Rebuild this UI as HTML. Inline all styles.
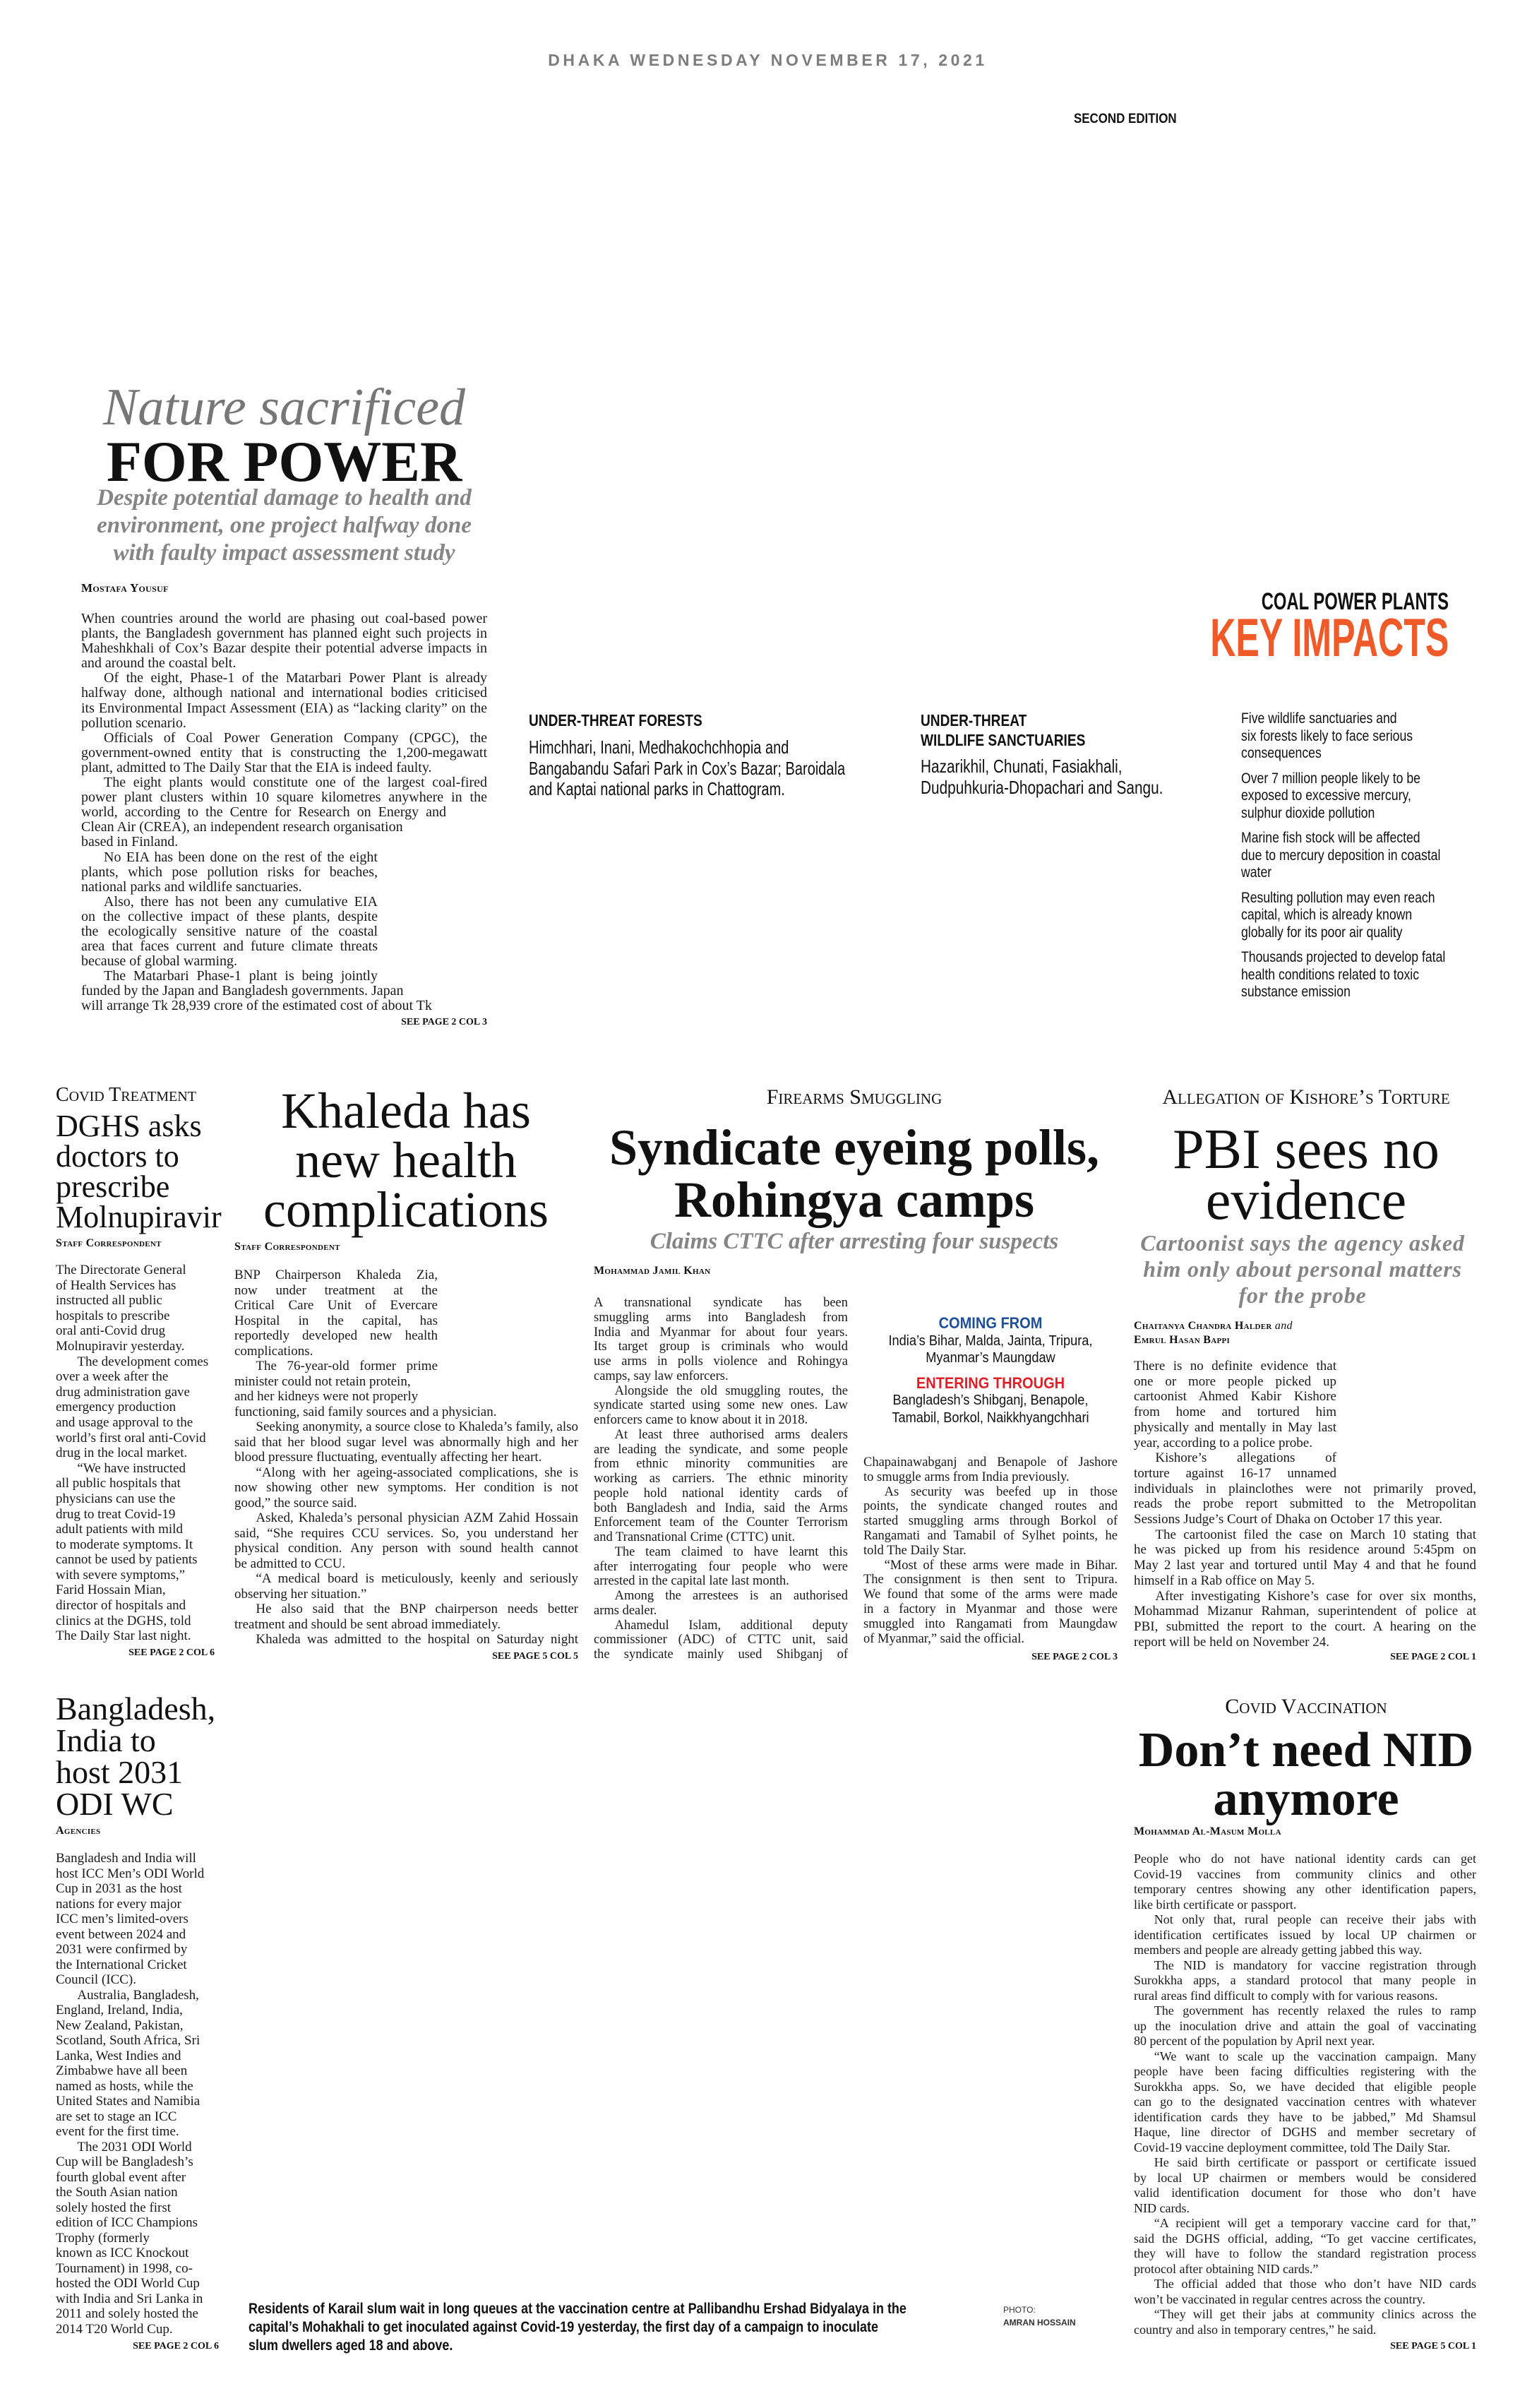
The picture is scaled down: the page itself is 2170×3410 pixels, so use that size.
<!DOCTYPE html>
<html><head><meta charset="utf-8">
<style>
*{margin:0;padding:0;box-sizing:border-box}
html,body{width:2170px;height:3410px;background:#fff;overflow:hidden}
body{position:relative;font-family:"Liberation Serif",serif;color:#111}
.a{position:absolute}
.nar{font-family:"Liberation Sans Narrow","Liberation Sans",sans-serif;font-stretch:condensed}
.b{position:absolute;font-family:"Liberation Serif",serif;color:#1a1a1a}
.b div{white-space:nowrap;text-align:justify;text-align-last:justify}
.b div.e{text-align-last:left}
.b div.i{text-indent:1.6em}
.r div{text-align:left;text-align-last:left}
.sc{font-variant:small-caps;font-weight:bold;font-size:17px;letter-spacing:0.3px}
.kick{font-variant:small-caps;font-size:30px;text-align:center;white-space:nowrap}
.see{position:absolute;font-weight:bold;font-size:14px;text-align:right;white-space:nowrap}
.c{text-align:center;white-space:nowrap}
.gi{color:#858585;font-style:italic;font-weight:bold}
</style></head><body>

<div class="a c" style="left:700px;width:775px;top:72px;font-family:'Liberation Sans',sans-serif;font-weight:bold;font-size:23px;letter-spacing:4.6px;color:#7d7d7d">DHAKA WEDNESDAY NOVEMBER 17, 2021</div>
<div class="a nar" style="left:1500px;width:167px;top:158px;text-align:right;font-weight:bold;font-size:19px;white-space:nowrap"><span style="display:inline-block;transform:scaleX(0.89);transform-origin:right">SECOND EDITION</span></div>

<!-- Lead -->
<div class="a c" style="left:115px;width:575px;top:537px;font-size:74px;line-height:80px;font-style:italic;color:#777">Nature sacrificed</div>
<div class="a c" style="left:115px;width:575px;top:612px;font-size:82px;line-height:84px;font-weight:bold;color:#111">FOR POWER</div>
<div class="a c gi" style="left:100px;width:605px;top:686px;font-size:33px;line-height:39px">Despite potential damage to health and<br>environment, one project halfway done<br>with faulty impact assessment study</div>
<div class="a sc" style="left:115px;top:823px">Mostafa Yousuf</div>
<div class="b" style="left:115px;top:866px;width:575px;font-size:20px;line-height:21.1px">
<div>When countries around the world are phasing out coal-based power</div>
<div>plants, the Bangladesh government has planned eight such projects in</div>
<div>Maheshkhali of Cox’s Bazar despite their potential adverse impacts in</div>
<div class="e">and around the coastal belt.</div>
<div class="i">Of the eight, Phase-1 of the Matarbari Power Plant is already</div>
<div>halfway done, although national and international bodies criticised</div>
<div>its Environmental Impact Assessment (EIA) as “lacking clarity” on the</div>
<div class="e">pollution scenario.</div>
<div class="i">Officials of Coal Power Generation Company (CPGC), the</div>
<div>government-owned entity that is constructing the 1,200-megawatt</div>
<div class="e">plant, admitted to The Daily Star that the EIA is indeed faulty.</div>
<div class="i">The eight plants would constitute one of the largest coal-fired</div>
<div>power plant clusters within 10 square kilometres anywhere in the</div>
<div style="width:517px">world, according to the Centre for Research on Energy and</div>
<div class="e">Clean Air (CREA), an independent research organisation</div>
<div class="e">based in Finland.</div>
<div style="width:420px">
<div class="i">No EIA has been done on the rest of the eight</div>
<div>plants, which pose pollution risks for beaches,</div>
<div class="e">national parks and wildlife sanctuaries.</div>
<div class="i">Also, there has not been any cumulative EIA</div>
<div>on the collective impact of these plants, despite</div>
<div>the ecologically sensitive nature of the coastal</div>
<div>area that faces current and future climate threats</div>
<div class="e">because of global warming.</div>
<div class="i">The Matarbari Phase-1 plant is being jointly</div>
</div>
<div class="e">funded by the Japan and Bangladesh governments. Japan</div>
<div class="e">will arrange Tk 28,939 crore of the estimated cost of about Tk</div>
</div>
<div class="see" style="left:440px;width:250px;top:1440px">SEE PAGE 2 COL 3</div>

<!-- Key impacts -->
<div class="a nar" style="left:1600px;width:452px;top:832px;text-align:right;font-weight:bold;font-size:34px;line-height:40px;white-space:nowrap"><span style="display:inline-block;transform:scaleX(0.7);transform-origin:right">COAL POWER PLANTS</span></div>
<div class="a nar" style="left:1500px;width:552px;top:862px;text-align:right;font-weight:bold;font-size:76px;line-height:84px;color:#f05a28;white-space:nowrap"><span style="display:inline-block;transform:scaleX(0.66);transform-origin:right">KEY IMPACTS</span></div>

<div class="a nar" style="left:749px;top:1006px;font-weight:bold;font-size:23px;line-height:28px;white-space:nowrap;transform:scaleX(0.83);transform-origin:left top">UNDER-THREAT FORESTS</div>
<div class="a nar" style="left:749px;top:1044px;font-size:26px;line-height:29.5px;white-space:nowrap;transform:scaleX(0.77);transform-origin:left top">Himchhari, Inani, Medhakochchhopia and<br>Bangabandu Safari Park in Cox’s Bazar; Baroidala<br>and Kaptai national parks in Chattogram.</div>

<div class="a nar" style="left:1304px;top:1006px;font-weight:bold;font-size:23px;line-height:28px;white-space:nowrap;transform:scaleX(0.83);transform-origin:left top">UNDER-THREAT<br>WILDLIFE SANCTUARIES</div>
<div class="a nar" style="left:1304px;top:1070px;font-size:26px;line-height:30px;white-space:nowrap;transform:scaleX(0.8);transform-origin:left top">Hazarikhil, Chunati, Fasiakhali,<br>Dudpuhkuria-Dhopachari and Sangu.</div>

<div class="a nar" style="left:1758px;top:1006px;font-size:21px;line-height:24.5px;white-space:nowrap;transform:scaleX(0.84);transform-origin:left top">
<div>Five wildlife sanctuaries and<br>six forests likely to face serious<br>consequences</div>
<div style="margin-top:11px">Over 7 million people likely to be<br>exposed to excessive mercury,<br>sulphur dioxide pollution</div>
<div style="margin-top:11px">Marine fish stock will be affected<br>due to mercury deposition in coastal<br>water</div>
<div style="margin-top:11px">Resulting pollution may even reach<br>capital, which is already known<br>globally for its poor air quality</div>
<div style="margin-top:11px">Thousands projected to develop fatal<br>health conditions related to toxic<br>substance emission</div>
</div>

<!-- DGHS -->
<div class="a kick" style="left:79px;top:1535px;text-align:left;font-size:28px">Covid Treatment</div>
<div class="a" style="left:79px;top:1573px;font-size:44px;line-height:43px;white-space:nowrap">DGHS asks<br>doctors to<br>prescribe<br>Molnupiravir</div>
<div class="a sc" style="left:79px;top:1752px;font-size:16px">Staff Correspondent</div>
<div class="b r" style="left:79px;top:1788px;width:225px;font-size:19px;line-height:21.6px">
<div>The Directorate General</div><div>of Health Services has</div><div>instructed all public</div><div>hospitals to prescribe</div><div>oral anti-Covid drug</div><div>Molnupiravir yesterday.</div>
<div class="i">The development comes</div><div>over a week after the</div><div>drug administration gave</div><div>emergency production</div><div>and usage approval to the</div><div>world’s first oral anti-Covid</div><div>drug in the local market.</div>
<div class="i">“We have instructed</div><div>all public hospitals that</div><div>physicians can use the</div><div>drug to treat Covid-19</div><div>adult patients with mild</div><div>to moderate symptoms. It</div><div>cannot be used by patients</div><div>with severe symptoms,”</div><div>Farid Hossain Mian,</div><div>director of hospitals and</div><div>clinics at the DGHS, told</div><div>The Daily Star last night.</div>
</div>
<div class="see" style="left:54px;width:250px;top:2333px">SEE PAGE 2 COL 6</div>

<!-- Khaleda -->
<div class="a c" style="left:340px;width:470px;top:1538px;font-size:72px;line-height:70px">Khaleda has<br>new health<br>complications</div>
<div class="a sc" style="left:332px;top:1757px;font-size:16px">Staff Correspondent</div>
<div class="b" style="left:332px;top:1795px;width:487px;font-size:19px;line-height:21.5px">
<div style="width:288px">
<div>BNP Chairperson Khaleda Zia,</div><div>now under treatment at the</div><div>Critical Care Unit of Evercare</div><div>Hospital in the capital, has</div><div>reportedly developed new health</div><div class="e">complications.</div>
<div class="i">The 76-year-old former prime</div><div class="e">minister could not retain protein,</div><div class="e">and her kidneys were not properly</div>
</div>
<div class="e">functioning, said family sources and a physician.</div>
<div class="i">Seeking anonymity, a source close to Khaleda’s family, also</div><div>said that her blood sugar level was abnormally high and her</div><div class="e">blood pressure fluctuating, eventually affecting her heart.</div>
<div class="i">“Along with her ageing-associated complications, she is</div><div>now showing other new symptoms. Her condition is not</div><div class="e">good,” the source said.</div>
<div class="i">Asked, Khaleda’s personal physician AZM Zahid Hossain</div><div>said, “She requires CCU services. So, you understand her</div><div>physical condition. Any person with sound health cannot</div><div class="e">be admitted to CCU.</div>
<div class="i">“A medical board is meticulously, keenly and seriously</div><div class="e">observing her situation.”</div>
<div class="i">He also said that the BNP chairperson needs better</div><div class="e">treatment and should be sent abroad immediately.</div>
<div class="i">Khaleda was admitted to the hospital on Saturday night</div>
</div>
<div class="see" style="left:569px;width:250px;top:2338px">SEE PAGE 5 COL 5</div>

<!-- Syndicate -->
<div class="a kick" style="left:960px;width:500px;top:1537px">Firearms Smuggling</div>
<div class="a c" style="left:830px;width:760px;top:1588px;font-size:72px;line-height:74px;font-weight:bold">Syndicate eyeing polls,<br>Rohingya camps</div>
<div class="a c gi" style="left:860px;width:700px;top:1739px;font-size:33px;line-height:38px">Claims CTTC after arresting four suspects</div>
<div class="a sc" style="left:841px;top:1791px;font-size:16px">Mohammad Jamil Khan</div>
<div class="b" style="left:841px;top:1835px;width:360px;font-size:18.5px;line-height:20.75px">
<div>A transnational syndicate has been</div><div>smuggling arms into Bangladesh from</div><div>India and Myanmar for about four years.</div><div>Its target group is criminals who would</div><div>use arms in polls violence and Rohingya</div><div class="e">camps, say law enforcers.</div>
<div class="i">Alongside the old smuggling routes, the</div><div>syndicate started using some new ones. Law</div><div class="e">enforcers came to know about it in 2018.</div>
<div class="i">At least three authorised arms dealers</div><div>are leading the syndicate, and some people</div><div>from ethnic minority communities are</div><div>working as carriers. The ethnic minority</div><div>people hold national identity cards of</div><div>both Bangladesh and India, said the Arms</div><div>Enforcement team of the Counter Terrorism</div><div class="e">and Transnational Crime (CTTC) unit.</div>
<div class="i">The team claimed to have learnt this</div><div>after interrogating four people who were</div><div class="e">arrested in the capital late last month.</div>
<div class="i">Among the arrestees is an authorised</div><div class="e">arms dealer.</div>
<div class="i">Ahamedul Islam, additional deputy</div><div>commissioner (ADC) of CTTC unit, said</div><div>the syndicate mainly used Shibganj of</div>
</div>
<div class="a nar c" style="left:1223px;width:360px;top:1862px;font-size:20px;line-height:24.5px;transform:scaleX(0.91);transform-origin:center top">
<div style="color:#1d4f9c;font-weight:bold;font-size:22px">COMING FROM</div>
<div>India’s Bihar, Malda, Jainta, Tripura,</div><div>Myanmar’s Maungdaw</div>
<div style="color:#e31e26;font-weight:bold;font-size:22px;margin-top:11px">ENTERING THROUGH</div>
<div>Bangladesh’s Shibganj, Benapole,</div><div>Tamabil, Borkol, Naikkhyangchhari</div>
</div>
<div class="b" style="left:1223px;top:2061px;width:360px;font-size:18.5px;line-height:20.8px">
<div>Chapainawabganj and Benapole of Jashore</div><div class="e">to smuggle arms from India previously.</div>
<div class="i">As security was beefed up in those</div><div>points, the syndicate changed routes and</div><div>started smuggling arms through Borkol of</div><div>Rangamati and Tamabil of Sylhet points, he</div><div class="e">told The Daily Star.</div>
<div class="i">“Most of these arms were made in Bihar.</div><div>The consignment is then sent to Tripura.</div><div>We found that some of the arms were made</div><div>in a factory in Myanmar and those were</div><div>smuggled into Rangamati from Maungdaw</div><div class="e">of Myanmar,” said the official.</div>
</div>
<div class="see" style="left:1333px;width:250px;top:2339px">SEE PAGE 2 COL 3</div>

<!-- PBI -->
<div class="a kick" style="left:1590px;width:520px;top:1537px">Allegation of Kishore’s Torture</div>
<div class="a c" style="left:1600px;width:500px;top:1592px;font-size:80px;line-height:72px">PBI sees no<br>evidence</div>
<div class="a c gi" style="left:1590px;width:510px;top:1742px;font-size:32px;line-height:37px;letter-spacing:0.8px">Cartoonist says the agency asked<br>him only about personal matters<br>for the probe</div>
<div class="a sc" style="left:1606px;top:1868px;font-size:16px;line-height:20px">Chaitanya Chandra Halder <i style="font-weight:normal;font-variant:normal">and</i><br>Emrul Hasan Bappi</div>
<div class="b" style="left:1606px;top:1924px;width:485px;font-size:19px;line-height:21.7px">
<div style="width:287px">
<div>There is no definite evidence that</div><div>one or more people picked up</div><div>cartoonist Ahmed Kabir Kishore</div><div>from home and tortured him</div><div>physically and mentally in May last</div><div class="e">year, according to a police probe.</div>
<div class="i">Kishore’s allegations of</div><div>torture against 16-17 unnamed</div>
</div>
<div>individuals in plainclothes were not primarily proved,</div><div>reads the probe report submitted to the Metropolitan</div><div class="e">Sessions Judge’s Court of Dhaka on October 17 this year.</div>
<div class="i">The cartoonist filed the case on March 10 stating that</div><div>he was picked up from his residence around 5:45pm on</div><div>May 2 last year and tortured until May 4 and that he found</div><div class="e">himself in a Rab office on May 5.</div>
<div class="i">After investigating Kishore’s case for over six months,</div><div>Mohammad Mizanur Rahman, superintendent of police at</div><div>PBI, submitted the report to the court. A hearing on the</div><div class="e">report will be held on November 24.</div>
</div>
<div class="see" style="left:1841px;width:250px;top:2339px">SEE PAGE 2 COL 1</div>

<!-- ODI -->
<div class="a" style="left:79px;top:2397px;font-size:46px;line-height:45px;white-space:nowrap">Bangladesh,<br>India to<br>host 2031<br>ODI WC</div>
<div class="a sc" style="left:79px;top:2584px;font-size:16px">Agencies</div>
<div class="b r" style="left:79px;top:2621px;width:227px;font-size:19px;line-height:21.5px">
<div>Bangladesh and India will</div><div>host ICC Men’s ODI World</div><div>Cup in 2031 as the host</div><div>nations for every major</div><div>ICC men’s limited-overs</div><div>event between 2024 and</div><div>2031 were confirmed by</div><div>the International Cricket</div><div>Council (ICC).</div>
<div class="i">Australia, Bangladesh,</div><div>England, Ireland, India,</div><div>New Zealand, Pakistan,</div><div>Scotland, South Africa, Sri</div><div>Lanka, West Indies and</div><div>Zimbabwe have all been</div><div>named as hosts, while the</div><div>United States and Namibia</div><div>are set to stage an ICC</div><div>event for the first time.</div>
<div class="i">The 2031 ODI World</div><div>Cup will be Bangladesh’s</div><div>fourth global event after</div><div>the South Asian nation</div><div>solely hosted the first</div><div>edition of ICC Champions</div><div>Trophy (formerly</div><div>known as ICC Knockout</div><div>Tournament) in 1998, co-</div><div>hosted the ODI World Cup</div><div>with India and Sri Lanka in</div><div>2011 and solely hosted the</div><div>2014 T20 World Cup.</div>
</div>
<div class="see" style="left:60px;width:250px;top:3315px">SEE PAGE 2 COL 6</div>

<!-- Caption -->
<div class="a nar" style="left:352px;top:3257px;font-weight:bold;font-size:21px;line-height:26px;white-space:nowrap;transform:scaleX(0.855);transform-origin:left top">Residents of Karail slum wait in long queues at the vaccination centre at Pallibandhu Ershad Bidyalaya in the<br>capital’s Mohakhali to get inoculated against Covid-19 yesterday, the first day of a campaign to inoculate<br>slum dwellers aged 18 and above.</div>
<div class="a" style="left:1421px;top:3262px;font-family:'Liberation Sans',sans-serif;font-size:12px;line-height:18px;white-space:nowrap;color:#333">PHOTO:<br><b>AMRAN HOSSAIN</b></div>

<!-- NID -->
<div class="a kick" style="left:1600px;width:500px;top:2400px">Covid Vaccination</div>
<div class="a c" style="left:1590px;width:520px;top:2444px;font-size:70px;line-height:69px;font-weight:bold">Don’t need NID<br>anymore</div>
<div class="a sc" style="left:1606px;top:2585px;font-size:16px">Mohammad Al-Masum Molla</div>
<div class="b" style="left:1606px;top:2622px;width:485px;font-size:18px;line-height:21.5px">
<div>People who do not have national identity cards can get</div><div>Covid-19 vaccines from community clinics and other</div><div>temporary centres showing any other identification papers,</div><div class="e">like birth certificate or passport.</div>
<div class="i">Not only that, rural people can receive their jabs with</div><div>identification certificates issued by local UP chairmen or</div><div class="e">members and people are already getting jabbed this way.</div>
<div class="i">The NID is mandatory for vaccine registration through</div><div>Surokkha apps, a standard protocol that many people in</div><div class="e">rural areas find difficult to comply with for various reasons.</div>
<div class="i">The government has recently relaxed the rules to ramp</div><div>up the inoculation drive and attain the goal of vaccinating</div><div class="e">80 percent of the population by April next year.</div>
<div class="i">“We want to scale up the vaccination campaign. Many</div><div>people have been facing difficulties registering with the</div><div>Surokkha apps. So, we have decided that eligible people</div><div>can go to the designated vaccination centres with whatever</div><div>identification cards they have to be jabbed,” Md Shamsul</div><div>Haque, line director of DGHS and member secretary of</div><div class="e">Covid-19 vaccine deployment committee, told The Daily Star.</div>
<div class="i">He said birth certificate or passport or certificate issued</div><div>by local UP chairmen or members would be considered</div><div>valid identification document for those who don’t have</div><div class="e">NID cards.</div>
<div class="i">“A recipient will get a temporary vaccine card for that,”</div><div>said the DGHS official, adding, “To get vaccine certificates,</div><div>they will have to follow the standard registration process</div><div class="e">protocol after obtaining NID cards.”</div>
<div class="i">The official added that those who don’t have NID cards</div><div class="e">won’t be vaccinated in regular centres across the country.</div>
<div class="i">“They will get their jabs at community clinics across the</div><div class="e">country and also in temporary centres,” he said.</div>
</div>
<div class="see" style="left:1841px;width:250px;top:3315px">SEE PAGE 5 COL 1</div>

</body></html>
